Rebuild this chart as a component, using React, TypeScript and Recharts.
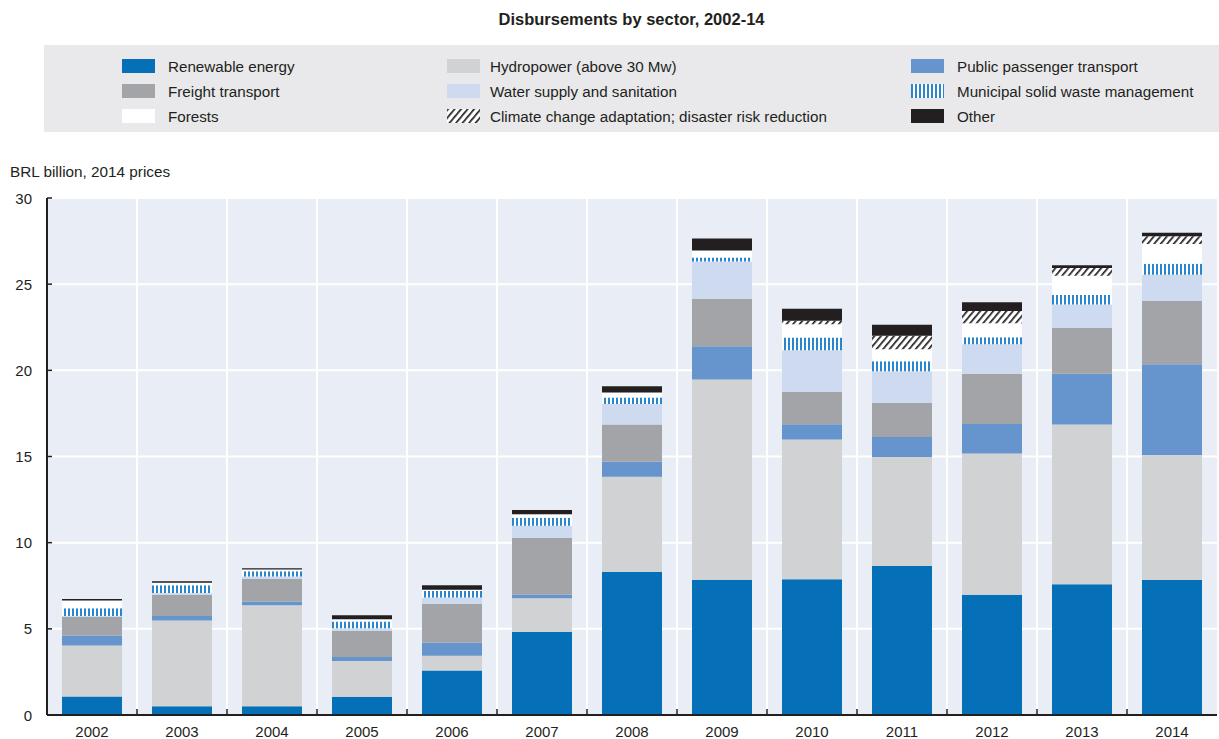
import React from 'react';
import { BarChart, Bar, XAxis, YAxis, CartesianGrid } from 'recharts';

// values, BRL billion (2014 prices)
const years = ['2002', '2003', '2004', '2005', '2006', '2007', '2008', '2009', '2010', '2011', '2012', '2013', '2014'];
const renewable = [1.08, 0.51, 0.51, 1.06, 2.58, 4.82, 8.3, 7.85, 7.87, 8.65, 6.98, 7.59, 7.83];
const hydropower = [2.95, 4.98, 5.86, 2.07, 0.86, 1.96, 5.53, 11.62, 8.12, 6.32, 8.2, 9.26, 7.25];
const publicTransport = [0.59, 0.25, 0.22, 0.23, 0.77, 0.2, 0.86, 1.93, 0.88, 1.16, 1.71, 2.95, 5.27];
const freight = [1.08, 1.24, 1.3, 1.52, 2.24, 3.29, 2.16, 2.75, 1.89, 1.98, 2.91, 2.66, 3.68];
const water = [0.05, 0.1, 0.15, 0.15, 0.37, 0.71, 1.2, 2.16, 2.4, 1.83, 1.71, 1.36, 1.51];
const waste = [0.45, 0.45, 0.3, 0.4, 0.37, 0.47, 0.37, 0.24, 0.75, 0.59, 0.41, 0.55, 0.65];
const forests = [0.45, 0.15, 0.1, 0.12, 0.08, 0.2, 0.3, 0.41, 0.77, 0.69, 0.81, 1.12, 1.14];
const climate = [0, 0, 0, 0, 0, 0, 0, 0, 0.2, 0.79, 0.71, 0.45, 0.45];
const other = [0.08, 0.08, 0.08, 0.24, 0.26, 0.24, 0.35, 0.69, 0.69, 0.63, 0.51, 0.16, 0.2];
const yTicks = [0, 5, 10, 15, 20, 25, 30];

const SERIES = [
  { key: 'renewable', name: 'Renewable energy', fill: '#0570b8', values: renewable },
  { key: 'hydro', name: 'Hydropower (above 30 Mw)', fill: '#d1d2d4', values: hydropower },
  { key: 'public', name: 'Public passenger transport', fill: '#6694cd', values: publicTransport },
  { key: 'freight', name: 'Freight transport', fill: '#a3a4a8', values: freight },
  { key: 'water', name: 'Water supply and sanitation', fill: '#cddaf0', values: water },
  { key: 'waste', name: 'Municipal solid waste management', fill: 'url(#mswStripes)', values: waste },
  { key: 'forests', name: 'Forests', fill: '#ffffff', values: forests },
  { key: 'climate', name: 'Climate change adaptation; disaster risk reduction', fill: 'url(#climateHatch)', values: climate },
  { key: 'other', name: 'Other', fill: '#231f20', values: other },
];

// legend is laid out row by row, three columns
const legendOrder = ['renewable', 'hydro', 'public', 'freight', 'water', 'waste', 'forests', 'climate', 'other'];
const legendCols = [122, 447, 911];
const legendRows = [66, 91, 116];

const data = years.map((year, i) => {
  const row: any = { year };
  SERIES.forEach(s => { row[s.key] = s.values[i]; });
  return row;
});

const W = 1219;
const H = 739;
const PLOT_LEFT = 47;
const PLOT_RIGHT = 1217;
const PLOT_TOP = 198;
const PLOT_BOTTOM = 715;
const BAND = (PLOT_RIGHT - PLOT_LEFT) / years.length;
const FONT = '"Liberation Sans", Arial, Helvetica, sans-serif';
const INK = '#231f20';

const YTick = (props: any) => {
  const { y, payload } = props;
  return (
    <g>
      <text x={PLOT_LEFT - 15} y={y} textAnchor="end" dominantBaseline="central" fontSize={15} fill={INK} fontFamily={FONT}>
        {payload.value}
      </text>
      <line x1={PLOT_LEFT} x2={PLOT_LEFT + 5} y1={y} y2={y} stroke={INK} strokeWidth={1.5} />
    </g>
  );
};

const XTick = (props: any) => {
  const { x, payload, index } = props;
  return (
    <g>
      <text x={x} y={PLOT_BOTTOM + 16} textAnchor="middle" dominantBaseline="central" fontSize={15} fill={INK} fontFamily={FONT}>
        {payload.value}
      </text>
      {index > 0 && (
        <line x1={x - BAND / 2} x2={x - BAND / 2} y1={PLOT_BOTTOM} y2={PLOT_BOTTOM - 6} stroke={INK} strokeWidth={1.5} />
      )}
    </g>
  );
};

const Patterns = () => (
  <svg width={0} height={0} style={{ position: 'absolute' }}>
    <defs>
      <pattern id="mswStripes" patternUnits="userSpaceOnUse" width={4} height={4}>
        <rect width={4} height={4} fill="#ffffff" />
        <rect x={0} width={2} height={4} fill="#2a86cc" />
      </pattern>
      <pattern id="climateHatch" patternUnits="userSpaceOnUse" width={5} height={5} patternTransform="rotate(40)">
        <rect width={5} height={5} fill="#ffffff" />
        <rect x={0} width={1.7} height={5} fill={INK} />
      </pattern>
    </defs>
  </svg>
);

export default function App() {
  const verticalPoints = years.slice(1).map((_, i) => PLOT_LEFT + (i + 1) * BAND);

  return (
    <div style={{ position: 'fixed', left: 0, top: 0, width: W, height: H, background: '#fff', fontFamily: FONT, color: INK }}>
      <Patterns />
      <div style={{ position: 'absolute', left: 0, width: 1263, top: 10, textAlign: 'center', fontWeight: 'bold', fontSize: 16.5 }}>
        Disbursements by sector, 2002-14
      </div>
      <div style={{ position: 'absolute', left: 44, top: 45, width: 1175, height: 87, background: '#e9e9eb' }} />
      {legendOrder.map((key, i) => {
        const s = SERIES.find(d => d.key === key)!;
        const left = legendCols[i % 3];
        const cy = legendRows[Math.floor(i / 3)];
        return (
          <div key={key} style={{ position: 'absolute', left, top: cy - 10, height: 20, display: 'flex', alignItems: 'center', whiteSpace: 'nowrap', fontSize: 15.2 }}>
            <svg width={33} height={14} style={{ display: 'block' }}>
              <rect width={33} height={14} fill={s.fill} />
            </svg>
            <span style={{ marginLeft: i % 3 === 1 ? 10 : 13 }}>{s.name}</span>
          </div>
        );
      })}
      <div style={{ position: 'absolute', left: 10, top: 163, fontSize: 15.3 }}>BRL billion, 2014 prices</div>
      <div style={{ position: 'absolute', left: 0, top: 0 }}>
        <BarChart
          width={W}
          height={H}
          data={data}
          margin={{ top: PLOT_TOP, right: W - PLOT_RIGHT, bottom: 0, left: 0 }}
        >
          <CartesianGrid
            fill="#e9edf5"
            fillOpacity={1}
            stroke="#ffffff"
            strokeWidth={2}
            verticalPoints={verticalPoints}
          />
          <XAxis
            dataKey="year"
            height={H - PLOT_BOTTOM}
            tickLine={false}
            axisLine={{ stroke: INK, strokeWidth: 2 }}
            tick={(p: any) => <XTick {...p} />}
            interval={0}
          />
          <YAxis
            width={PLOT_LEFT}
            domain={[0, 30]}
            ticks={yTicks}
            tickLine={false}
            axisLine={{ stroke: INK, strokeWidth: 2 }}
            tick={(p: any) => <YTick {...p} />}
            interval={0}
          />
          {SERIES.map(s => (
            <Bar key={s.key} dataKey={s.key} name={s.name} stackId="a" fill={s.fill} barSize={60} isAnimationActive={false} />
          ))}
        </BarChart>
      </div>
    </div>
  );
}
